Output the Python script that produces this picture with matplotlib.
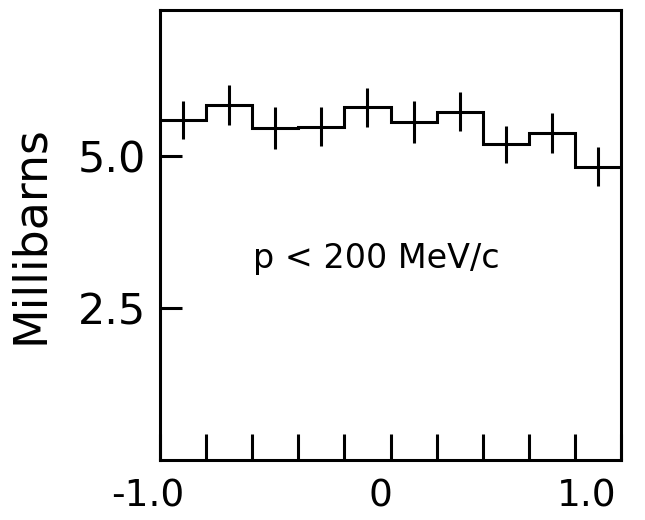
import numpy as np
import matplotlib
matplotlib.use("Agg")
import matplotlib.pyplot as plt
from matplotlib.transforms import ScaledTranslation

# Cross section per cos(theta) bin, p < 200 MeV/c
bin_edges = [-1.0, -0.8, -0.6, -0.4, -0.2, 0.0, 0.2, 0.4, 0.6, 0.8, 1.0]
bin_centers = [-0.9, -0.7, -0.5, -0.3, -0.1, 0.1, 0.3, 0.5, 0.7, 0.9]
xsec_mb = [5.59, 5.84, 5.46, 5.48, 5.80, 5.56, 5.73, 5.19, 5.37, 4.82]
xsec_err = [0.32, 0.33, 0.34, 0.32, 0.32, 0.34, 0.32, 0.30, 0.33, 0.32]

x_ticks = [-1.0, -0.8, -0.6, -0.4, -0.2, 0.0, 0.2, 0.4, 0.6, 0.8, 1.0]
x_labels = ["-1.0", "", "", "", "", "0", "", "", "", "", "1.0"]
y_ticks = [2.5, 5.0]
y_labels = ["2.5", "5.0"]

plt.rcParams["font.family"] = "DejaVu Sans"

fig = plt.figure(figsize=(6.45, 5.2), dpi=100)
ax = fig.add_axes([0.248, 0.115, 0.715, 0.866])

lw = 2.2
ax.stairs(xsec_mb, bin_edges, color="black", linewidth=lw, baseline=None)
ax.errorbar(bin_centers, xsec_mb, yerr=xsec_err, fmt="none",
            ecolor="black", elinewidth=lw, capsize=0)

ax.set_xlim(-1.0, 1.0)
ax.set_ylim(0, 7.4)

# inward ticks every 0.2, labels only at the ends and the middle
ax.set_xticks(x_ticks)
ax.set_xticklabels(x_labels)
ax.tick_params(axis="x", direction="in", length=19, width=lw,
               labelsize=27, pad=13)
# nudge the labels left so the right one stays on the canvas
shifts = {"-1.0": -12, "0": -10, "1.0": -34}
for lab in ax.get_xticklabels():
    dx = shifts.get(lab.get_text(), 0)
    lab.set_transform(lab.get_transform() + ScaledTranslation(dx / 100, 0, fig.dpi_scale_trans))

ax.set_yticks(y_ticks)
ax.set_yticklabels(y_labels)
ax.tick_params(axis="y", direction="in", length=16, width=lw,
               labelsize=31, pad=10)

for sp in ax.spines.values():
    sp.set_linewidth(lw)

ax.set_ylabel("Millibarns", fontsize=33, labelpad=18)
ax.text(-0.06, 3.32, "p < 200 MeV/c", fontsize=24, ha="center", va="center")

fig.savefig("out.png", dpi=100)
